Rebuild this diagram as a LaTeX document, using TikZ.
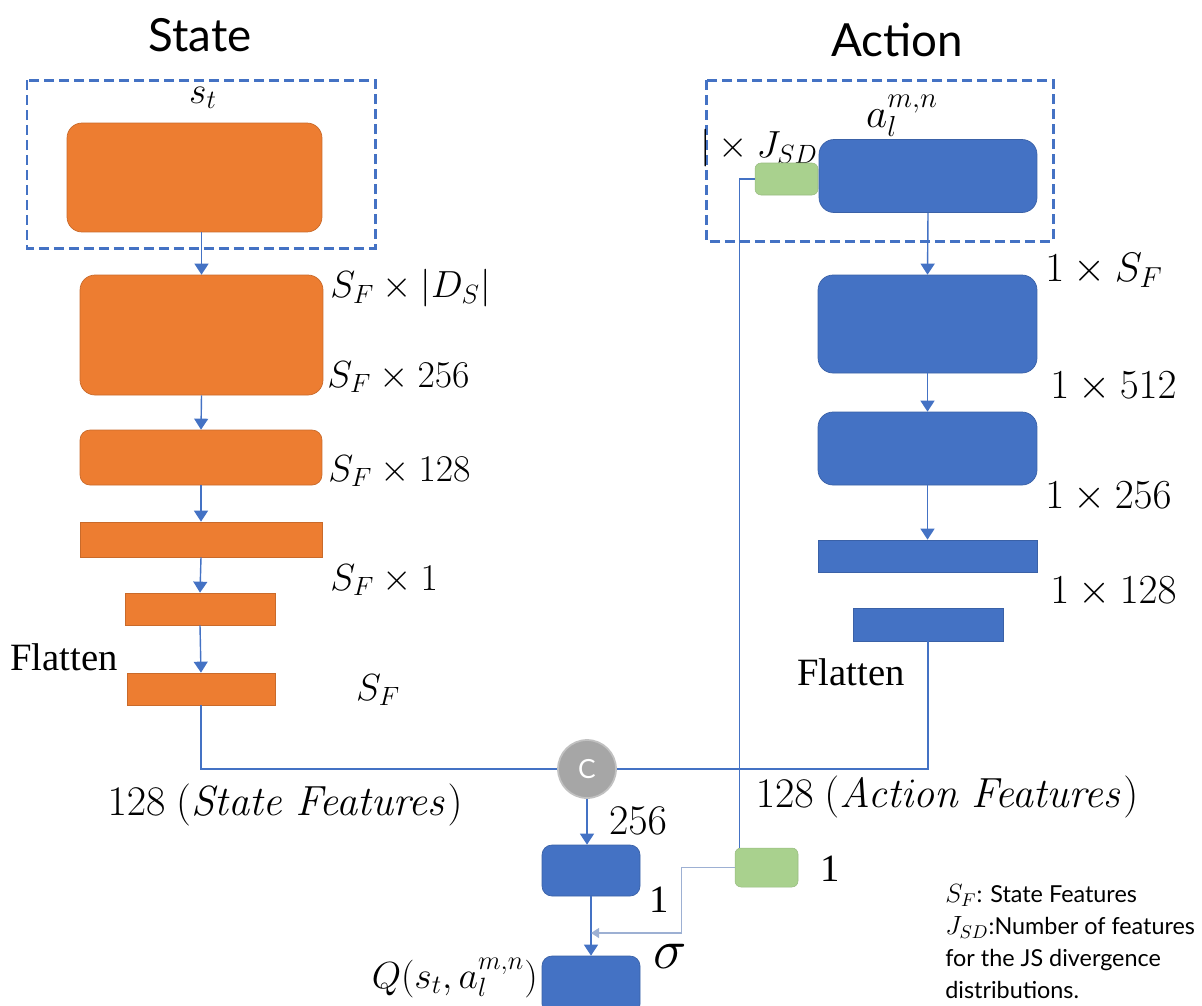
\RequirePackage{fix-cm}
\documentclass[tikz,border=0pt]{standalone}
\usepackage[no-math]{fontspec}
\setmainfont{Liberation Serif}
\newfontfamily\titlefont{Lato}
\usetikzlibrary{arrows.meta}

\definecolor{netOrange}{HTML}{ED7D31}
\definecolor{netBlue}{HTML}{4472C4}
\definecolor{netGreen}{HTML}{A9D18E}
\definecolor{netGray}{HTML}{A6A6A6}
\definecolor{sigGray}{HTML}{9DB0D3}

\tikzstyle{orangeNode} = [rectangle, rounded corners=0.3cm, inner sep=0pt, fill=netOrange, draw=netOrange!85!black, line width=0.4pt]
\tikzstyle{orangeBar} = [rectangle, inner sep=0pt, fill=netOrange, draw=netOrange!85!black, line width=0.4pt]
\tikzstyle{blueNode} = [rectangle, rounded corners=0.3cm, inner sep=0pt, fill=netBlue, draw=netBlue!85!black, line width=0.4pt]
\tikzstyle{blueBar} = [rectangle, inner sep=0pt, fill=netBlue, draw=netBlue!85!black, line width=0.4pt]
\tikzstyle{greenNode} = [rectangle, rounded corners=0.12cm, inner sep=0pt, fill=netGreen, draw=netGreen!90!black, line width=0.3pt]
\tikzstyle{cNode} = [circle, inner sep=0pt, minimum size=1.16cm, fill=netGray, draw=netGray!70!white, line width=1pt, text=white, font=\titlefont\fontsize{15}{18}\selectfont]
\tikzstyle{dimText} = [inner sep=0pt, font=\fontsize{21.5}{25}\selectfont]
\tikzstyle{dimTextR} = [inner sep=0pt, font=\fontsize{23.5}{27}\selectfont]
\tikzstyle{featText} = [inner sep=0pt, font=\fontsize{24}{28}\selectfont]
\tikzstyle{flatText} = [inner sep=0pt, font=\fontsize{22}{26}\selectfont]
\tikzstyle{titleText} = [inner sep=0pt, font=\titlefont\fontsize{26}{30}\selectfont]
\tikzstyle{arrow} = [netBlue, line width=0.8pt, -{Triangle[width=0.28cm,length=0.22cm]}]
\tikzstyle{line} = [netBlue, line width=0.8pt]
\tikzstyle{sigArrow} = [sigGray, line width=0.7pt, -{Triangle[width=0.2cm,length=0.16cm]}]
\tikzstyle{dashBox} = [draw=netBlue, line width=1.7pt, dash pattern=on 0.2cm off 0.1cm]

\begin{document}
\begin{tikzpicture}[x=0.02cm, y=-0.02cm]
    \useasboundingbox (0,0) rectangle (1202,1005);

    % state branch
    \node (stateTitle)[titleText] at (200,35) {State};
    \draw[dashBox] (27,80) rectangle (375,248);
    \node (st)[dimText] at (203,98) {$s_t$};
    \node (s1)[orangeNode, minimum width=5.1cm, minimum height=2.18cm] at (194.5,177.5) {};
    \node (s2)[orangeNode, minimum width=4.86cm, minimum height=2.4cm] at (201.5,335) {};
    \node (s3)[orangeNode, rounded corners=0.2cm, minimum width=4.84cm, minimum height=1.1cm] at (201,457.5) {};
    \node (s4)[orangeBar, minimum width=4.84cm, minimum height=0.7cm] at (201,539.5) {};
    \node (s5)[orangeBar, minimum width=3cm, minimum height=0.64cm] at (200,609) {};
    \node (s6)[orangeBar, minimum width=2.96cm, minimum height=0.64cm] at (201,689) {};

    \node (ls2a)[dimText, anchor=west] at (330,288) {$S_F\times|D_S|$};
    \node (ls2b)[dimText, anchor=west] at (327,377) {$S_F\times 256$};
    \node (ls3)[dimText, anchor=west] at (328,471) {$S_F\times 128$};
    \node (ls4)[dimText, anchor=west] at (330,580) {$S_F\times 1$};
    \node (ls6)[dimText] at (378,690) {$S_F$};
    \node (flatS)[flatText] at (64,657) {Flatten};
    \node (featS)[featText] at (285,805) {$128\ (\mathit{State\ Features})$};

    \draw [arrow] (s1.south -| s2.north) -- (s2.north);
    \draw [arrow] (s2.south) -- (s3.north);
    \draw [arrow] (s3.south) -- (s4.north);
    \draw [arrow] (s4.south) -- (s5.north);
    \draw [arrow] (s5.south) -- (s6.north);

    % action branch
    \node (actionTitle)[titleText] at (897,40) {Action};
    \draw[dashBox] (706,80) rectangle (1053,241);
    \node (alm)[dimTextR] at (902,116) {$a_l^{m,n}$};
    \node (jsd)[dimText, anchor=east] at (818,148) {$|\times J_{SD}$};
    \node (g1)[greenNode, minimum width=1.26cm, minimum height=0.64cm] at (786.5,179) {};
    \node (a1)[blueNode, minimum width=4.36cm, minimum height=1.46cm] at (928,176) {};
    \node (a2)[blueNode, minimum width=4.38cm, minimum height=1.96cm] at (927.5,324) {};
    \node (a3)[blueNode, minimum width=4.38cm, minimum height=1.46cm] at (927.5,448.5) {};
    \node (a4)[blueBar, minimum width=4.38cm, minimum height=0.64cm] at (927.5,556) {};
    \node (a5)[blueBar, minimum width=3cm, minimum height=0.66cm] at (928,624.5) {};

    \node (la1)[dimTextR, anchor=west] at (1045,270) {$1\times S_F$};
    \node (la2)[dimTextR, anchor=west] at (1050,387) {$1\times 512$};
    \node (la3)[dimTextR, anchor=west] at (1045,497) {$1\times 256$};
    \node (la4)[dimTextR, anchor=west] at (1050,592) {$1\times 128$};
    \node (flatA)[flatText] at (851,672) {Flatten};
    \node (featA)[featText] at (947,797) {$128\ (\mathit{Action\ Features})$};

    \draw [arrow] (a1.south) -- (a2.north);
    \draw [arrow] (a2.south) -- (a3.north);
    \draw [arrow] (a3.south) -- (a4.north);

    % merge and output
    \node (cc)[cNode] at (587,769) {C};
    \node (b1)[blueNode, rounded corners=0.2cm, minimum width=1.96cm, minimum height=1.02cm] at (591,870.5) {};
    \node (b2)[blueNode, rounded corners=0.2cm, minimum width=1.96cm, minimum height=1.16cm] at (591,985) {};
    \node (g2)[greenNode, minimum width=1.26cm, minimum height=0.78cm] at (766.5,867.5) {};
    \coordinate (mix) at (591,933);

    \node (l256)[featText] at (638,821) {$256$};
    \node (lg2)[flatText] at (830,869) {1};
    \node (lone)[flatText] at (659,900) {1};
    \node (sig)[inner sep=0pt, font=\fontsize{32}{36}\selectfont] at (670,956) {$\sigma$};
    \node (q)[dimText, anchor=east] at (538,978) {$Q(s_t,a_l^{m,n})$};

    \draw [line] (s6.south) |- (cc.west);
    \draw [line] (a5.south) |- (cc.east);
    \draw [line] (g1.west) -| ([xshift=0.1cm]g2.north west);
    \draw [arrow] (cc.south) -- (cc.south |- b1.north);
    \draw [arrow] (b1.south) -- (b2.north);
    \draw [sigArrow] (g2.west) -- ++(-53,0) |- (mix);

    % legend
    \node (legend)[anchor=north west, inner sep=0pt, align=left, font=\titlefont\fontsize{13.3}{18.2}\selectfont] at (945,884) {{\fontsize{15}{18}\selectfont$S_F$}: State Features\\{\fontsize{15}{18}\selectfont$J_{SD}$}:Number of features\\for the JS divergence\\distributions.};
\end{tikzpicture}
\end{document}
